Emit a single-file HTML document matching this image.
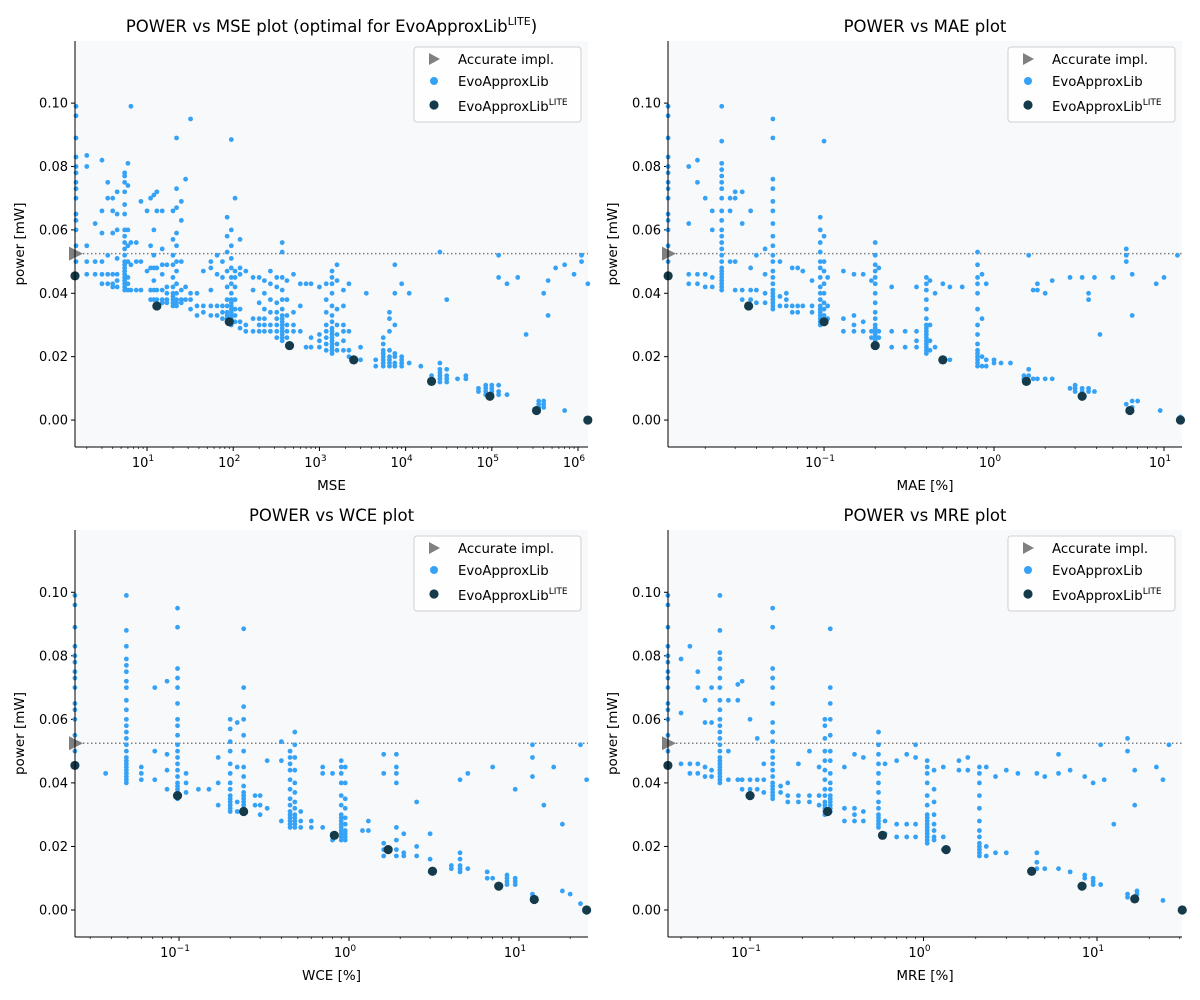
<!DOCTYPE html>
<html><head><meta charset="utf-8"><style>
body{margin:0;background:#fff;}
svg{display:block;font-family:"DejaVu Sans","Liberation Sans",sans-serif;}
</style></head><body>
<svg id="fig" width="1200" height="1000" viewBox="0 0 1200 1000" xmlns="http://www.w3.org/2000/svg"></svg>
<script>
// ---------- DATA ----------
const accurateY = 0.0525;
// MSE panel: columns [x, [y...]]
const mseCols = [
[1.5,[0.046,0.05,0.055,0.06,0.063,0.065,0.07,0.073,0.075,0.078,0.08,0.083,0.089,0.096,0.099]],
[2,[0.046,0.05,0.055,0.08,0.0835]],[2.5,[0.046,0.05,0.062]],[3,[0.043,0.046,0.05,0.059,0.066,0.082]],
[3.5,[0.043,0.046,0.052,0.07,0.075]],[4,[0.042,0.043,0.046,0.059,0.066,0.07]],[4.5,[0.042,0.044,0.046,0.051,0.06,0.065,0.072]],
[5.5,[0.041,0.042,0.043,0.044,0.045,0.046,0.047,0.048,0.049,0.05,0.052,0.054,0.056,0.058,0.06,0.065,0.068,0.072,0.075,0.077,0.078]],
[6,[0.041,0.043,0.045,0.05,0.055,0.06,0.074,0.081]],[6.5,[0.041,0.049,0.056,0.099]],[7.5,[0.041,0.05,0.056]],[8.5,[0.041,0.05,0.069]],
[10,[0.047,0.066]],[11,[0.038,0.041,0.048,0.055,0.07]],[12,[0.038,0.041,0.044,0.048,0.052,0.06,0.071]],[13,[0.038,0.041,0.048,0.066,0.072]],
[15,[0.037,0.038,0.041,0.046,0.049,0.054,0.066]],[17,[0.037,0.038,0.04,0.042,0.049]],
[20,[0.036,0.037,0.038,0.039,0.04,0.042,0.045,0.049,0.052,0.057,0.066]],[22,[0.036,0.037,0.038,0.04,0.043,0.047,0.05,0.055,0.059,0.067,0.073,0.089]],
[25,[0.037,0.038,0.041,0.05,0.063,0.069]],[28,[0.038,0.042,0.076]],[32,[0.035,0.038,0.04,0.095]],[38,[0.033,0.036,0.04]],
[45,[0.034,0.036,0.047]],[55,[0.033,0.036,0.041,0.048,0.05]],[65,[0.033,0.036,0.046,0.052]],[75,[0.032,0.034,0.036,0.045,0.05]],
[85,[0.031,0.032,0.033,0.034,0.036,0.038,0.042,0.047,0.053,0.058,0.064]],
[95,[0.03,0.031,0.032,0.033,0.034,0.035,0.036,0.037,0.038,0.04,0.043,0.045,0.048,0.051,0.055,0.06,0.0885]],
[105,[0.031,0.033,0.035,0.038,0.042,0.045,0.047,0.07]],[120,[0.029,0.031,0.035,0.046,0.048,0.057]],[140,[0.028,0.03,0.047]],
[170,[0.028,0.032,0.041,0.045]],[200,[0.028,0.03,0.032,0.037,0.045]],[230,[0.028,0.03,0.032,0.035,0.04,0.044]],
[270,[0.028,0.03,0.034,0.038,0.043,0.047]],[320,[0.026,0.028,0.03,0.032,0.034,0.037,0.042,0.045]],
[370,[0.025,0.026,0.027,0.028,0.029,0.03,0.031,0.032,0.033,0.035,0.038,0.041,0.045,0.053,0.056]],
[420,[0.026,0.028,0.03,0.033,0.038,0.044]],[500,[0.028,0.03,0.034,0.046]],[600,[0.028,0.036,0.043]],[700,[0.023,0.043]],
[800,[0.023,0.026,0.043]],[1000,[0.023,0.025,0.027,0.042]],[1200,[0.022,0.024,0.026,0.028,0.03,0.034,0.038,0.043]],
[1400,[0.021,0.022,0.023,0.024,0.025,0.026,0.027,0.028,0.029,0.031,0.033,0.036,0.04,0.043,0.045,0.047]],
[1600,[0.022,0.024,0.027,0.03,0.035,0.044,0.049]],[1900,[0.022,0.025,0.028,0.03,0.036,0.041]],[2200,[0.02,0.022,0.028,0.043]],
[3000,[0.019,0.023]],[3500,[0.04]],[4500,[0.017,0.019]],[5500,[0.017,0.018,0.019,0.02,0.021,0.022,0.024,0.026]],
[6500,[0.017,0.018,0.019,0.02,0.022,0.028,0.032,0.034]],[7500,[0.017,0.018,0.02,0.021,0.03,0.04,0.049]],
[9000,[0.017,0.018,0.019,0.02,0.043]],[11000,[0.018,0.04]],[15000,[0.017]],[20000,[0.013,0.014]],
[25000,[0.012,0.013,0.014,0.015,0.016,0.018,0.053]],[30000,[0.012,0.013,0.014,0.016,0.038]],[40000,[0.013]],[50000,[0.013,0.014]],
[70000,[0.009,0.01]],[85000,[0.008,0.009,0.01,0.011]],[100000,[0.008,0.009,0.01,0.011]],[120000,[0.008,0.009,0.011,0.045,0.052]],
[150000,[0.008,0.043]],[200000,[0.045]],[250000,[0.027]],[350000,[0.004,0.005,0.006]],[400000,[0.004,0.005,0.006,0.04]],
[450000,[0.033,0.044]],[550000,[0.048]],[700000,[0.003,0.049]],[900000,[0.046]],[1100000,[0.05,0.052]],[1300000,[0.043]]
];
const mseLite = [[1.46,0.0455],[13,0.036],[90,0.031],[450,0.0235],[2500,0.019],[20000,0.0122],[95000,0.0075],[330000,0.003],[1300000,0.0]];

const maeCols = [
[0.0121,[0.046,0.05,0.055,0.06,0.063,0.065,0.07,0.073,0.075,0.078,0.08,0.083,0.089,0.096,0.099]],
[0.016,[0.043,0.046,0.062,0.08]],[0.018,[0.043,0.046,0.075,0.082]],[0.02,[0.042,0.046,0.07]],[0.022,[0.042,0.045,0.06,0.066]],
[0.025,[0.041,0.042,0.043,0.044,0.045,0.046,0.047,0.048,0.05,0.052,0.054,0.056,0.058,0.06,0.063,0.066,0.07,0.073,0.075,0.077,0.079,0.081,0.088,0.099]],
[0.028,[0.05,0.066,0.07]],[0.03,[0.041,0.05,0.07,0.072]],[0.033,[0.038,0.041,0.062,0.072]],[0.037,[0.038,0.041,0.048,0.066]],
[0.04,[0.037,0.041,0.052]],[0.045,[0.037,0.04,0.046,0.054]],
[0.05,[0.035,0.036,0.037,0.038,0.039,0.04,0.041,0.043,0.045,0.047,0.05,0.052,0.055,0.058,0.062,0.066,0.069,0.073,0.076,0.089,0.095]],
[0.055,[0.036,0.039,0.05]],[0.06,[0.036,0.038,0.04]],[0.065,[0.034,0.036,0.048]],[0.07,[0.034,0.036,0.048]],[0.075,[0.036,0.047]],
[0.085,[0.034,0.036,0.044]],
[0.095,[0.03,0.031,0.032,0.033,0.034,0.035,0.036,0.038,0.04,0.042,0.045,0.048,0.05,0.053,0.056,0.06,0.064]],
[0.1,[0.031,0.033,0.035,0.037,0.04,0.043,0.047,0.05,0.058,0.088]],[0.105,[0.032,0.036,0.045]],
[0.13,[0.028,0.032,0.047]],[0.15,[0.028,0.03,0.033,0.046]],[0.17,[0.028,0.031,0.046]],[0.19,[0.026,0.028,0.044]],
[0.2,[0.024,0.025,0.026,0.027,0.028,0.029,0.03,0.032,0.034,0.037,0.04,0.043,0.045,0.047,0.049,0.052,0.056]],
[0.21,[0.026,0.028,0.048]],[0.25,[0.023,0.028,0.042]],[0.3,[0.023,0.028]],[0.35,[0.023,0.025,0.028,0.042]],
[0.4,[0.021,0.022,0.023,0.024,0.025,0.026,0.027,0.028,0.029,0.03,0.032,0.035,0.038,0.041,0.043,0.045]],
[0.42,[0.022,0.025,0.03,0.044]],[0.45,[0.023,0.04]],[0.5,[0.019,0.043]],[0.55,[0.019,0.042]],[0.65,[0.042]],
[0.8,[0.017,0.018,0.019,0.02,0.021,0.022,0.024,0.027,0.03,0.035,0.04,0.043,0.045,0.049,0.053]],
[0.85,[0.017,0.02,0.032,0.046]],[0.9,[0.017,0.019,0.043]],[1.0,[0.018,0.019]],[1.1,[0.018]],[1.25,[0.018]],
[1.5,[0.013,0.014]],[1.6,[0.012,0.014,0.016,0.052]],[1.7,[0.013,0.041]],[1.8,[0.013,0.041,0.043]],[2.0,[0.013,0.04]],
[2.2,[0.013,0.044]],[2.8,[0.01,0.045]],[3.0,[0.009,0.01,0.011]],[3.3,[0.008,0.009,0.01,0.045]],[3.6,[0.009,0.01,0.038,0.04]],
[3.9,[0.009,0.045]],[4.2,[0.027]],[5,[0.045]],[6,[0.005,0.05,0.052,0.054]],[6.5,[0.004,0.006,0.033,0.046]],[7,[0.006]],
[9,[0.043]],[9.5,[0.003]],[10,[0.045]],[12,[0.052]],[12.5,[0.001]]
];
const maeLite = [[0.0121,0.0455],[0.036,0.036],[0.1,0.031],[0.2,0.0235],[0.5,0.019],[1.55,0.0122],[3.3,0.0075],[6.3,0.003],[12.5,0]];

const wceCols = [
[0.0244,[0.046,0.05,0.055,0.06,0.063,0.065,0.07,0.073,0.075,0.078,0.08,0.083,0.089,0.096,0.099]],
[0.037,[0.043]],
[0.049,[0.04,0.041,0.042,0.043,0.044,0.045,0.046,0.047,0.048,0.05,0.052,0.054,0.056,0.058,0.06,0.063,0.066,0.07,0.072,0.075,0.077,0.079,0.083,0.088,0.099]],
[0.06,[0.041,0.043,0.045]],[0.072,[0.041,0.05,0.07]],[0.085,[0.038,0.044,0.049,0.072]],
[0.098,[0.035,0.036,0.037,0.038,0.039,0.04,0.042,0.044,0.046,0.048,0.05,0.052,0.055,0.058,0.06,0.065,0.07,0.073,0.076,0.089,0.095]],
[0.11,[0.037,0.04,0.043]],[0.13,[0.038]],[0.15,[0.038]],[0.17,[0.033,0.04,0.048]],
[0.2,[0.031,0.032,0.033,0.034,0.035,0.036,0.038,0.04,0.043,0.046,0.05,0.053,0.057,0.06]],
[0.22,[0.031,0.034,0.045,0.059]],[0.24,[0.031,0.032,0.033,0.034,0.035,0.036,0.037,0.039,0.042,0.045,0.05,0.055,0.06,0.064,0.07,0.0885]],
[0.28,[0.033,0.036]],[0.3,[0.03,0.033,0.036]],[0.33,[0.032,0.047]],[0.4,[0.028,0.047,0.053]],
[0.45,[0.026,0.027,0.028,0.029,0.03,0.031,0.033,0.035,0.038,0.041,0.044,0.046,0.048,0.05]],
[0.48,[0.026,0.027,0.028,0.029,0.03,0.032,0.034,0.037,0.04,0.044,0.048,0.052,0.056]],
[0.52,[0.026,0.028,0.031]],[0.6,[0.026,0.028]],[0.7,[0.026,0.043,0.045]],[0.8,[0.022,0.024,0.043]],
[0.9,[0.022,0.023,0.024,0.025,0.026,0.027,0.028,0.029,0.03,0.033,0.036,0.04,0.043,0.045,0.047]],
[0.95,[0.022,0.023,0.024,0.025,0.027,0.029,0.032,0.035,0.04,0.045]],
[1.2,[0.025]],[1.3,[0.025,0.028]],[1.6,[0.017,0.019,0.021,0.043,0.049]],[1.9,[0.017,0.019,0.022,0.026,0.04,0.043,0.045,0.049]],
[2.1,[0.017,0.018,0.024]],[2.5,[0.017,0.02,0.034]],[3,[0.012,0.016,0.024]],[4,[0.013,0.014]],
[4.5,[0.012,0.013,0.014,0.016,0.018,0.041]],[5,[0.013,0.043]],[6.5,[0.01,0.012]],[7,[0.01,0.045]],
[8.5,[0.008,0.009,0.01,0.011]],[9.5,[0.008,0.009,0.01,0.038]],[12,[0.004,0.005,0.042,0.048,0.052]],[14,[0.033]],
[16,[0.045]],[18,[0.006,0.027]],[20,[0.005]],[23,[0.002,0.052]],[25,[0.041]]
];
const wceLite = [[0.0244,0.0455],[0.098,0.036],[0.24,0.031],[0.82,0.0235],[1.7,0.019],[3.1,0.0122],[7.6,0.0075],[12.3,0.0033],[25,0]];

const mreCols = [
[0.0336,[0.046,0.05,0.055,0.06,0.063,0.065,0.07,0.073,0.075,0.078,0.08,0.083,0.089,0.096,0.099]],
[0.04,[0.046,0.062,0.079]],[0.045,[0.043,0.046,0.083]],[0.05,[0.043,0.046,0.07,0.075]],[0.055,[0.042,0.045,0.059,0.066]],
[0.06,[0.042,0.044,0.059,0.07]],
[0.067,[0.04,0.041,0.042,0.043,0.044,0.045,0.046,0.047,0.048,0.05,0.052,0.054,0.056,0.058,0.06,0.063,0.066,0.07,0.073,0.076,0.079,0.081,0.088,0.099]],
[0.075,[0.041,0.05,0.066]],[0.085,[0.041,0.066,0.071]],[0.09,[0.038,0.041,0.072]],[0.1,[0.038,0.041,0.06]],
[0.11,[0.038,0.041,0.054]],[0.12,[0.037,0.041,0.046]],
[0.135,[0.035,0.036,0.037,0.038,0.039,0.04,0.042,0.044,0.046,0.048,0.05,0.053,0.056,0.059,0.065,0.07,0.073,0.076,0.089,0.095]],
[0.15,[0.037,0.039]],[0.165,[0.034,0.036,0.04]],[0.19,[0.034,0.036,0.046]],[0.22,[0.034,0.036,0.05]],[0.25,[0.033,0.036,0.045]],
[0.27,[0.03,0.031,0.032,0.033,0.034,0.036,0.038,0.041,0.044,0.047,0.05,0.054,0.058,0.06]],
[0.29,[0.031,0.032,0.033,0.034,0.035,0.036,0.038,0.04,0.043,0.047,0.05,0.055,0.06,0.065,0.07,0.0885]],
[0.35,[0.028,0.032,0.045]],[0.4,[0.028,0.03,0.032,0.049]],[0.45,[0.028,0.031,0.048]],
[0.55,[0.026,0.027,0.028,0.029,0.03,0.032,0.034,0.037,0.04,0.043,0.046,0.049,0.052,0.056]],
[0.6,[0.024,0.028,0.046]],[0.7,[0.023,0.027,0.047]],[0.8,[0.023,0.027,0.049]],[0.9,[0.023,0.027,0.048,0.052]],
[1.05,[0.021,0.022,0.023,0.024,0.025,0.026,0.027,0.028,0.029,0.03,0.033,0.036,0.04,0.043,0.045,0.047]],
[1.15,[0.022,0.023,0.025,0.027,0.03,0.034,0.038,0.044]],[1.3,[0.019,0.023,0.045]],[1.6,[0.044,0.047]],[1.8,[0.044,0.048]],
[2.1,[0.017,0.018,0.019,0.02,0.021,0.023,0.025,0.028,0.032,0.036,0.04,0.043,0.045]],
[2.3,[0.017,0.02,0.045]],[2.6,[0.018,0.042]],[3,[0.018,0.044]],[3.5,[0.043]],[4.5,[0.013,0.015,0.018,0.043]],
[5,[0.013,0.042]],[6,[0.013,0.043,0.049]],[7,[0.012,0.044]],[8.5,[0.01,0.011,0.042]],[9.5,[0.008,0.009,0.01,0.04]],
[10.5,[0.008,0.052]],[11,[0.041]],[12.5,[0.027]],[15,[0.004,0.005,0.05,0.054]],[16.5,[0.033,0.044]],[17,[0.005,0.006]],
[22,[0.045]],[24,[0.003,0.041]],[26,[0.052]]
];
const mreLite = [[0.0336,0.0455],[0.1,0.036],[0.28,0.031],[0.58,0.0235],[1.35,0.019],[4.2,0.0122],[8.2,0.0075],[16.5,0.0035],[31,0]];

const yTicks = [0,0.02,0.04,0.06,0.08,0.1];
const yTickLabels = ["0.00","0.02","0.04","0.06","0.08","0.10"];

// ---------- DRAW ----------
const NS="http://www.w3.org/2000/svg";
const svg=document.getElementById('fig');
function mk(tag,attrs,parent){const e=document.createElementNS(NS,tag);for(const k in attrs)e.setAttribute(k,attrs[k]);(parent||svg).appendChild(e);return e;}

const panels=[
 {key:'mse',L:75,R:588,T:41,B:447,xmin:Math.log10(1.46),xmax:6.116,ticks:[1,2,3,4,5,6],cols:mseCols,lite:mseLite,xlabel:'MSE',title:'mse'},
 {key:'mae',L:668,R:1182,T:41,B:447,xmin:-1.918,xmax:1.106,ticks:[-1,0,1],cols:maeCols,lite:maeLite,xlabel:'MAE [%]',title:'POWER vs MAE plot'},
 {key:'wce',L:75,R:588,T:530,B:937,xmin:-1.612,xmax:1.406,ticks:[-1,0,1],cols:wceCols,lite:wceLite,xlabel:'WCE [%]',title:'POWER vs WCE plot'},
 {key:'mre',L:668,R:1182,T:530,B:937,xmin:-1.473,xmax:1.49,ticks:[-1,0,1],cols:mreCols,lite:mreLite,xlabel:'MRE [%]',title:'POWER vs MRE plot'}
];
const YMIN=-0.0085,YMAX=0.1196;

panels.forEach(p=>{
 const g=mk('g',{});
 
 
 const sx=v=>p.L+(Math.log10(v)-p.xmin)/(p.xmax-p.xmin)*(p.R-p.L);
 const sy=v=>p.B-(v-YMIN)/(YMAX-YMIN)*(p.B-p.T);
 const bg=mk('rect',{x:p.L,y:p.T,width:p.R-p.L,height:p.B-p.T,fill:'#f8f9fb'},g);
 
 
 const t=mk('text',{x:(p.L+p.R)/2,y:p.T-9,'text-anchor':'middle','font-size':'16.5',fill:'#000'},g);
 
 
 if(p.title==='mse'){
  t.appendChild(document.createTextNode('POWER vs MSE plot (optimal for EvoApproxLib'));
  const ts=mk('tspan',{'font-size':'11','dy':'-7'},t);ts.textContent='LITE';
  const ts2=mk('tspan',{'dy':'7'},t);ts2.textContent=')';
 } else t.textContent=p.title;
 yTicks.forEach((v,i)=>{
  const y=sy(v);
  mk('line',{x1:p.L-4,x2:p.L,y1:y,y2:y,stroke:'#000','stroke-width':1},g);
  const tl=mk('text',{x:p.L-7,y:y+4.5,'text-anchor':'end','font-size':'13'},g);
  tl.textContent=yTickLabels[i];
  
  
 });
 for(let d=Math.floor(p.xmin);d<=Math.ceil(p.xmax);d++){
  for(let k=1;k<10;k++){
   const lv=d+Math.log10(k);
   if(lv<p.xmin||lv>p.xmax)continue;
   const x=sx(Math.pow(10,lv));
   mk('line',{x1:x,x2:x,y1:p.B,y2:p.B+(k===1?4:2),stroke:'#000','stroke-width':k===1?1:0.7},g);
  }
 }
 p.ticks.forEach(e=>{
  const x=sx(Math.pow(10,e));
  const tl=mk('text',{x:x-4,y:p.B+20,'text-anchor':'middle','font-size':'13'},g);
  
  
  tl.appendChild(document.createTextNode('10'));
  const s=mk('tspan',{'font-size':'9',dy:'-6'},tl);s.textContent=String(e).replace('-','\u2212');
 });
 const xl=mk('text',{x:(p.L+p.R)/2,y:p.B+43,'text-anchor':'middle','font-size':'13.5'},g);
 xl.textContent=p.xlabel;
 
 
 const yl=mk('text',{x:0,y:0,'text-anchor':'middle','font-size':'13.5',transform:`translate(${p.L-51},${(p.T+p.B)/2}) rotate(-90)`},g);
 yl.textContent='power [mW]';
 
 
 const ay=sy(accurateY);
 const al=mk('line',{x1:p.L,x2:p.R,y1:ay,y2:ay,stroke:'#808080','stroke-width':1.5,'stroke-dasharray':'1.5,2.5'},g);
 
 
 p.cols.forEach(c=>{
  c[1].forEach(v=>{
   const pt=mk('circle',{cx:sx(c[0]),cy:sy(v),r:2.4,fill:'#35a2f6'},g);
   
   
  });
 });
 p.lite.forEach(d=>{
  const pt=mk('circle',{cx:sx(d[0]),cy:sy(d[1]),r:4.6,fill:'#153b4b'},g);
  
  
 });
 const tx=p.L-6;
 const tri=mk('polygon',{points:`${tx},${ay-7} ${tx},${ay+7} ${tx+14},${ay}`,fill:'#808080'},g);
 
 
 mk('line',{x1:p.L,x2:p.L,y1:p.T,y2:p.B,stroke:'#000','stroke-width':1},g);
 mk('line',{x1:p.L,x2:p.R,y1:p.B,y2:p.B,stroke:'#000','stroke-width':1},g);
 const lg=mk('g',{},g);
 
 
 const lx=p.R-174,ly=p.T+6;
 mk('rect',{x:lx,y:ly,width:167,height:75,rx:3,fill:'#fff','fill-opacity':0.85,stroke:'#d0d0d0'},lg);
 mk('polygon',{points:`${lx+15},${ly+6} ${lx+15},${ly+18} ${lx+26},${ly+12}`,fill:'#808080'},lg);
 mk('circle',{cx:lx+20,cy:ly+34,r:4,fill:'#35a2f6'},lg);
 mk('circle',{cx:lx+20,cy:ly+58,r:4.6,fill:'#153b4b'},lg);
 const e1=mk('text',{x:lx+44,y:ly+17,'font-size':'13.3'},lg);e1.textContent='Accurate impl.';
 
 const e2=mk('text',{x:lx+44,y:ly+39,'font-size':'13.3'},lg);e2.textContent='EvoApproxLib';
 
 const e3=mk('text',{x:lx+44,y:ly+64,'font-size':'13.3'},lg);
 
 e3.appendChild(document.createTextNode('EvoApproxLib'));
 const s3=mk('tspan',{'font-size':'9',dy:'-6'},e3);s3.textContent='LITE';
});
</script>
</body></html>
